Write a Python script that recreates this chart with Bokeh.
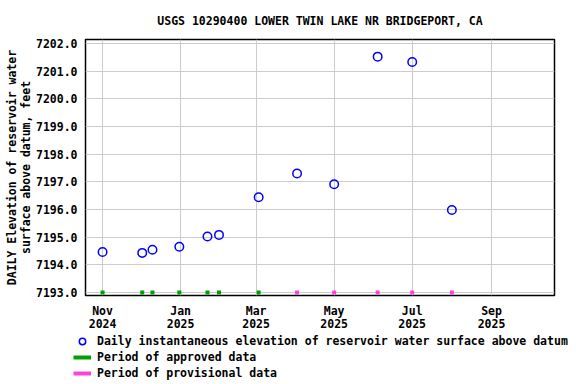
from datetime import datetime
from bokeh.plotting import figure
from bokeh.layouts import column
from bokeh.models import (Range1d, FixedTicker, DatetimeTickFormatter, PrintfTickFormatter,
                          Legend, LegendItem, ColumnDataSource)
from bokeh.embed import file_html
from bokeh.resources import INLINE

# ---- data ----
title_text = "USGS 10290400 LOWER TWIN LAKE NR BRIDGEPORT, CA"
y_label = "DAILY Elevation of reservoir water\nsurface above datum, feet"
dates = ["2024-11-01", "2024-12-02", "2024-12-10", "2024-12-31", "2025-01-22", "2025-01-31",
         "2025-03-03", "2025-04-02", "2025-05-01", "2025-06-04", "2025-07-01", "2025-08-01"]
elevation = [7194.46, 7194.43, 7194.54, 7194.65, 7195.02, 7195.08,
             7196.44, 7197.30, 7196.91, 7201.52, 7201.33, 7195.98]
status = ["approved"] * 7 + ["provisional"] * 5
y_ticks = [7193, 7194, 7195, 7196, 7197, 7198, 7199, 7200, 7201, 7202]
x_tick_dates = ["2024-11-01", "2025-01-01", "2025-03-01", "2025-05-01", "2025-07-01", "2025-09-01"]
legend_labels = ["Daily instantaneous elevation of reservoir water surface above datum",
                 "Period of approved data", "Period of provisional data"]
status_base = 7193.0

FONT = "DejaVu Sans Mono"
FS = "11.5px"
BLUE = "#0000ff"
GREEN = "#00a000"
PINK = "#ff40e0"

def dt(s):
    return datetime.strptime(s, "%Y-%m-%d")

x = [dt(d) for d in dates]
src = ColumnDataSource(dict(x=x, y=elevation))
appr = ColumnDataSource(dict(x=[xi for xi, s in zip(x, status) if s == "approved"],
                             y=[status_base for s in status if s == "approved"]))
prov = ColumnDataSource(dict(x=[xi for xi, s in zip(x, status) if s == "provisional"],
                             y=[status_base for s in status if s == "provisional"]))

MAIN_H = 334
p = figure(width=576, height=MAIN_H, output_backend="svg", toolbar_location=None,
           x_axis_type="datetime",
           x_range=Range1d(datetime(2024, 10, 18, 16), datetime(2025, 10, 20, 5)),
           y_range=Range1d(7192.89, 7202.14),
           min_border_left=85, min_border_right=22, min_border_top=39,
           min_border_bottom=MAIN_H - 296)

p.title.text = title_text
p.title.align = "center"
p.title.text_font = FONT
p.title.text_font_size = FS
p.title.text_font_style = "bold"
p.title.text_color = "black"
p.title.standoff = 23

p.outline_line_color = "black"
p.outline_line_width = 1.5
p.background_fill_color = "white"
p.border_fill_color = "white"

# axes
tick_ms = [dt(d).timestamp() * 1000 for d in x_tick_dates]
p.xaxis.ticker = FixedTicker(ticks=tick_ms)
fmt = "%b\n%Y"
p.xaxis.formatter = DatetimeTickFormatter(days=fmt, months=fmt, years=fmt, hours=fmt)
p.yaxis.ticker = FixedTicker(ticks=y_ticks)
p.yaxis.formatter = PrintfTickFormatter(format="%.1f")
p.yaxis.axis_label = y_label
p.yaxis.axis_label_standoff = 0
p.yaxis.axis_label_text_line_height = 0.97
p.xaxis.major_label_text_line_height = 0.97

for ax in (p.xaxis[0], p.yaxis[0]):
    ax.axis_line_color = None
    ax.major_tick_line_color = None
    ax.minor_tick_line_color = None
    ax.major_tick_out = 0
    ax.major_tick_in = 0
    ax.minor_tick_out = 0
    ax.major_label_text_font = FONT
    ax.major_label_text_font_size = FS
    ax.major_label_text_font_style = "bold"
    ax.major_label_text_color = "black"
    ax.axis_label_text_font = FONT
    ax.axis_label_text_font_size = FS
    ax.axis_label_text_font_style = "bold"
    ax.axis_label_text_color = "black"
p.xaxis.major_label_standoff = 8
p.yaxis.major_label_standoff = 8

p.xgrid.grid_line_color = "#cccccc"
p.ygrid.grid_line_color = "#cccccc"
p.xgrid.grid_line_width = 1
p.ygrid.grid_line_width = 1

# glyphs
p.scatter("x", "y", source=src, marker="circle", size=8.5, fill_color=None,
          line_color=BLUE, line_width=1.5)
p.scatter("x", "y", source=appr, marker="square", size=4, fill_color=GREEN, line_color=None)
p.scatter("x", "y", source=prov, marker="square", size=4, fill_color=PINK, line_color=None)

# ---- legend strip below the chart ----
LEG_H = 384 - MAIN_H
lf = figure(width=576, height=LEG_H, output_backend="svg", toolbar_location=None,
            x_range=Range1d(0, 1), y_range=Range1d(0, 1),
            x_axis_location=None, y_axis_location=None,
            min_border=0, min_border_left=0, min_border_right=0,
            min_border_top=0, min_border_bottom=0)
lf.outline_line_color = None
lf.grid.visible = False
lf.background_fill_color = "white"
lf.border_fill_color = "white"
for fig in (p, lf):
    if "frame_align" in fig.properties():
        fig.frame_align = False

# legend key renderers (kept outside the strip's visible range; only their keys show)
k_pts = lf.scatter(x=[-9], y=[-9], marker="circle", size=8.5, fill_color=None,
                   line_color=BLUE, line_width=1.5)
k_appr = lf.line(x=[-9, -8], y=[-9, -9], line_color=GREEN, line_width=4)
k_prov = lf.line(x=[-9, -8], y=[-9, -9], line_color=PINK, line_width=4)

ROW = 16
legend = Legend(items=[LegendItem(label=legend_labels[0], renderers=[k_pts]),
                       LegendItem(label=legend_labels[1], renderers=[k_appr]),
                       LegendItem(label=legend_labels[2], renderers=[k_prov])],
                location=(73, LEG_H - 3 * ROW + 1), orientation="vertical",
                glyph_width=18, glyph_height=ROW, label_height=ROW, spacing=0,
                padding=0, margin=0, label_standoff=6,
                border_line_color=None, background_fill_alpha=0,
                label_text_font=FONT, label_text_font_size=FS,
                label_text_font_style="bold", label_text_color="black")
lf.add_layout(legend, "center")

page = column(p, lf, spacing=0)
open("out.html", "w").write(file_html(page, INLINE))
